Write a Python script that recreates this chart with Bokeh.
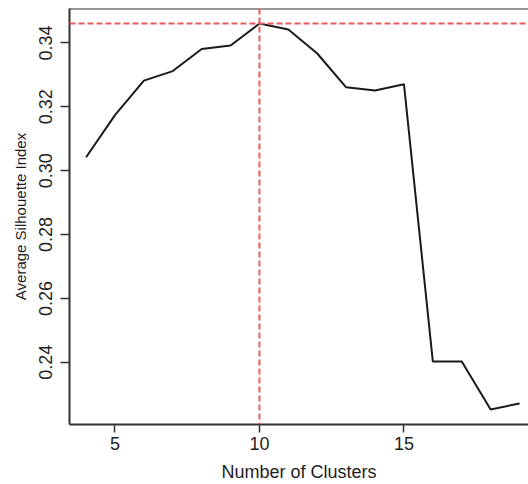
from bokeh.plotting import figure
from bokeh.models import Range1d, LinearAxis, FixedTicker, Span
from bokeh.embed import file_html
from bokeh.resources import INLINE

clusters = [4, 5, 6, 7, 8, 9, 10, 11, 12, 13, 14, 15, 16, 17, 18, 19]
silhouette = [0.3042, 0.3174, 0.3282, 0.3312, 0.3381, 0.3392, 0.3461, 0.3442,
              0.3367, 0.3261, 0.3251, 0.3271, 0.2402, 0.2402, 0.2252, 0.2271]
x_ticks = [5, 10, 15]
y_ticks = [0.24, 0.26, 0.28, 0.30, 0.32, 0.34]
y_tick_labels = {0.24: "0.24", 0.26: "0.26", 0.28: "0.28", 0.30: "0.30", 0.32: "0.32", 0.34: "0.34"}
best_k = 10
best_val = max(silhouette)

FONT = "Liberation Sans"
AX = "#333333"
TXT = "#1e1e1e"
RED = "#f05a5a"

p = figure(width=528, height=484, output_backend="svg", toolbar_location=None,
           x_range=Range1d(3.426, 19.31), y_range=Range1d(0.2205, 0.3508),
           x_axis_location=None, y_axis_location=None,
           min_border_left=69, min_border_right=0, min_border_top=8, min_border_bottom=59)
p.outline_line_color = None
p.xgrid.visible = False
p.ygrid.visible = False
p.background_fill_color = "white"
p.border_fill_color = "white"

xa = LinearAxis(ticker=FixedTicker(ticks=x_ticks), axis_label="Number of Clusters")
xa.axis_line_color = AX
xa.axis_line_width = 2
xa.major_tick_line_color = AX
xa.major_tick_line_width = 1.5
xa.major_tick_out = 8
xa.major_tick_in = 0
xa.minor_tick_out = 0
xa.minor_tick_in = 0
xa.major_label_text_font = FONT
xa.major_label_text_font_size = "18px"
xa.major_label_text_color = TXT
xa.major_label_standoff = 4
xa.axis_label_text_font = FONT
xa.axis_label_text_font_size = "18px"
xa.axis_label_text_font_style = "normal"
xa.axis_label_text_color = TXT
xa.axis_label_standoff = 9
p.add_layout(xa, "below")

ya = LinearAxis(ticker=FixedTicker(ticks=y_ticks), axis_label="Average Silhouette Index")
ya.major_label_overrides = y_tick_labels
ya.major_label_orientation = "vertical"
ya.axis_line_color = AX
ya.axis_line_width = 2
ya.major_tick_line_color = AX
ya.major_tick_line_width = 1.5
ya.major_tick_out = 9
ya.major_tick_in = 0
ya.minor_tick_out = 0
ya.minor_tick_in = 0
ya.major_label_text_font = FONT
ya.major_label_text_font_size = "18px"
ya.major_label_text_color = TXT
ya.major_label_standoff = 8
ya.axis_label_text_font = FONT
ya.axis_label_text_font_size = "15px"
ya.axis_label_text_font_style = "normal"
ya.axis_label_text_color = TXT
ya.axis_label_standoff = 8
p.add_layout(ya, "left")

top = Span(location=0.3508, dimension="width", line_color=AX, line_width=2)
p.add_layout(top)

p.line(clusters, silhouette, line_color="#1a1a1a", line_width=2)

p.add_layout(Span(location=best_k, dimension="height", line_color=RED,
                  line_width=2, line_dash="6 3"))
p.add_layout(Span(location=best_val, dimension="width", line_color=RED,
                  line_width=2, line_dash="6 3"))

open("out.html", "w").write(file_html(p, INLINE))
